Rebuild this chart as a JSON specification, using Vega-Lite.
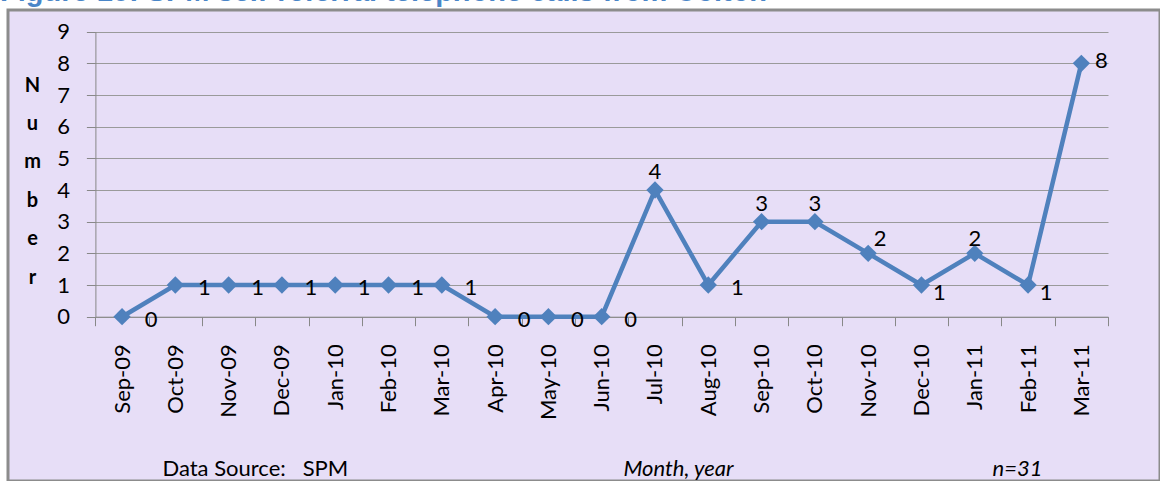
{
  "$schema": "https://vega.github.io/schema/vega-lite/v6.json",
  "width": 1152,
  "height": 471,
  "autosize": {"type": "none"},
  "padding": {"left": 8, "top": 10, "right": 0, "bottom": 0},
  "background": "#ffffff",
  "config": {
    "view": {"fill": "#E7DEF7", "stroke": "#8C8C8C", "strokeWidth": 3},
    "font": "Lato",
    "axis": {"labelFont": "Lato", "titleFont": "Lato", "labelColor": "#000000", "titleColor": "#000000"}
  },
  "title": {
    "text": "Figure 10: SPM self-referral telephone calls from Colton",
    "font": "Liberation Sans",
    "fontSize": 29,
    "fontWeight": "bold",
    "color": "#4A86C8",
    "anchor": "start",
    "frame": "group",
    "baseline": "alphabetic",
    "offset": -20,
    "dx": -8
  },
  "data": {
    "values": [
      {"month": "Sep-09", "value": 0},
      {"month": "Oct-09", "value": 1},
      {"month": "Nov-09", "value": 1},
      {"month": "Dec-09", "value": 1},
      {"month": "Jan-10", "value": 1},
      {"month": "Feb-10", "value": 1},
      {"month": "Mar-10", "value": 1},
      {"month": "Apr-10", "value": 0},
      {"month": "May-10", "value": 0},
      {"month": "Jun-10", "value": 0},
      {"month": "Jul-10", "value": 4},
      {"month": "Aug-10", "value": 1},
      {"month": "Sep-10", "value": 3},
      {"month": "Oct-10", "value": 3},
      {"month": "Nov-10", "value": 2},
      {"month": "Dec-10", "value": 1},
      {"month": "Jan-11", "value": 2},
      {"month": "Feb-11", "value": 1},
      {"month": "Mar-11", "value": 8}
    ]
  },
  "layer": [
    {
      "mark": {"type": "line", "color": "#4F81BD", "strokeWidth": 4.5},
      "encoding": {
        "x": {
          "field": "month", "type": "ordinal",
          "scale": {"type": "band", "domain": ["Sep-09","Oct-09","Nov-09","Dec-09","Jan-10","Feb-10","Mar-10","Apr-10","May-10","Jun-10","Jul-10","Aug-10","Sep-10","Oct-10","Nov-10","Dec-10","Jan-11","Feb-11","Mar-11"], "range": [87.4, 1100], "paddingInner": 0, "paddingOuter": 0},
          "axis": {
            "orient": "bottom", "offset": -164.3, "tickBand": "extent", "grid": false,
            "labelAngle": -90, "labelAlign": "right", "labelBaseline": "middle", "labelFontSize": 22, "labelPadding": 18,
            "tickSize": 9, "tickColor": "#888888", "domainColor": "#888888",
            "title": "Month, year", "titleFontStyle": "italic", "titleFontWeight": "normal", "titleFontSize": 22,
            "titleX": 670, "titleY": 158.3, "titleAlign": "center", "titleBaseline": "alphabetic"
          }
        },
        "y": {
          "field": "value", "type": "quantitative",
          "scale": {"domain": [0, 9], "range": [306.7, 21.7], "nice": false, "zero": true},
          "axis": {
            "orient": "left", "offset": -87.4, "values": [0,1,2,3,4,5,6,7,8,9], "grid": true, "gridColor": "#9A9A9A", "gridWidth": 1,
            "tickSize": 9, "tickColor": "#888888", "domainColor": "#888888", "labelFontSize": 22, "labelPadding": 17,
            "title": ["N", "u", "m", "b", "e", "r"], "titleAngle": 0, "titleFontWeight": "bold", "titleFontSize": 20,
            "titleLineHeight": 38.4, "titleX": -63.4, "titleY": 75, "titleAlign": "center", "titleBaseline": "middle"
          }
        }
      }
    },
    {
      "mark": {"type": "point", "shape": "diamond", "filled": true, "size": 300, "color": "#4F81BD", "opacity": 1},
      "encoding": {
        "x": {"field": "month", "type": "ordinal", "axis": null},
        "y": {"field": "value", "type": "quantitative", "axis": null}
      }
    },
    {
      "transform": [{"filter": {"field": "month", "oneOf": ["Sep-09","Oct-09","Nov-09","Dec-09","Jan-10","Feb-10","Mar-10","Apr-10","May-10","Jun-10","Aug-10"]}}],
      "mark": {"type": "text", "fontSize": 22, "color": "#000000", "align": "center", "baseline": "middle", "dx": 29, "dy": 3},
      "encoding": {
        "x": {
          "field": "month", "type": "ordinal",
          "axis": {"orient": "top", "labels": false, "ticks": false, "domain": false, "grid": false,
            "title": "Data Source:\u00a0\u00a0 SPM", "titleFontWeight": "normal", "titleFontSize": 22,
            "titleX": 154, "titleY": 465, "titleAlign": "left", "titleBaseline": "alphabetic"}
        },
        "y": {
          "field": "value", "type": "quantitative",
          "axis": {"orient": "right", "labels": false, "ticks": false, "domain": false, "grid": false,
            "title": "n=31", "titleAngle": 0, "titleFontStyle": "italic", "titleFontWeight": "normal", "titleFontSize": 22,
            "titleX": -168, "titleY": 465, "titleAlign": "left", "titleBaseline": "alphabetic"}
        },
        "text": {"field": "value", "type": "quantitative"}
      }
    },
    {
      "transform": [{"filter": {"field": "month", "oneOf": ["Jul-10","Sep-10","Oct-10"]}}],
      "mark": {"type": "text", "fontSize": 22, "color": "#000000", "align": "center", "baseline": "middle", "dy": -18},
      "encoding": {
        "x": {"field": "month", "type": "ordinal", "axis": null},
        "y": {"field": "value", "type": "quantitative", "axis": null},
        "text": {"field": "value", "type": "quantitative"}
      }
    },
    {
      "transform": [{"filter": {"field": "month", "oneOf": ["Jan-11"]}}],
      "mark": {"type": "text", "fontSize": 22, "color": "#000000", "align": "center", "baseline": "middle", "dy": -14},
      "encoding": {
        "x": {"field": "month", "type": "ordinal", "axis": null},
        "y": {"field": "value", "type": "quantitative", "axis": null},
        "text": {"field": "value", "type": "quantitative"}
      }
    },
    {
      "transform": [{"filter": {"field": "month", "oneOf": ["Nov-10"]}}],
      "mark": {"type": "text", "fontSize": 22, "color": "#000000", "align": "center", "baseline": "middle", "dx": 12, "dy": -14},
      "encoding": {
        "x": {"field": "month", "type": "ordinal", "axis": null},
        "y": {"field": "value", "type": "quantitative", "axis": null},
        "text": {"field": "value", "type": "quantitative"}
      }
    },
    {
      "transform": [{"filter": {"field": "month", "oneOf": ["Dec-10","Feb-11"]}}],
      "mark": {"type": "text", "fontSize": 22, "color": "#000000", "align": "center", "baseline": "middle", "dx": 18, "dy": 8},
      "encoding": {
        "x": {"field": "month", "type": "ordinal", "axis": null},
        "y": {"field": "value", "type": "quantitative", "axis": null},
        "text": {"field": "value", "type": "quantitative"}
      }
    },
    {
      "transform": [{"filter": {"field": "month", "oneOf": ["Mar-11"]}}],
      "mark": {"type": "text", "fontSize": 22, "color": "#000000", "align": "center", "baseline": "middle", "dx": 20, "dy": -2},
      "encoding": {
        "x": {"field": "month", "type": "ordinal", "axis": null},
        "y": {"field": "value", "type": "quantitative", "axis": null},
        "text": {"field": "value", "type": "quantitative"}
      }
    }
  ],
  "resolve": {"axis": {"x": "independent", "y": "independent"}}
}
